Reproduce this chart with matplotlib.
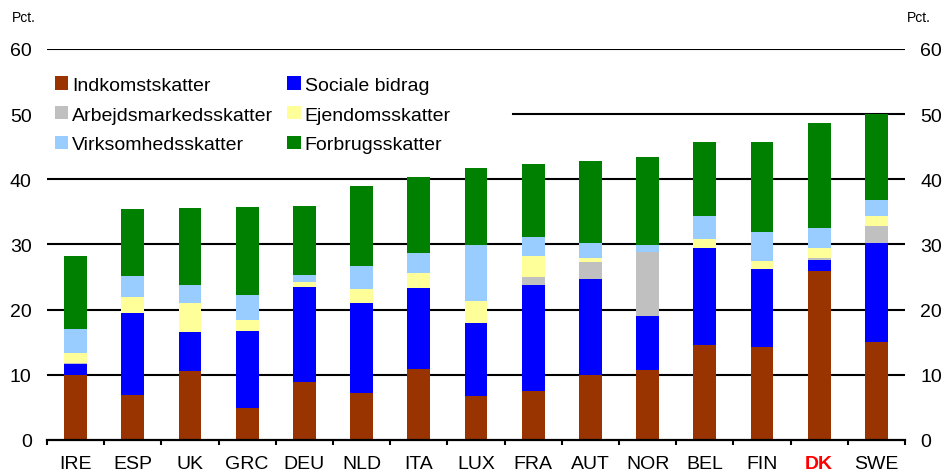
import numpy as np
import matplotlib
matplotlib.use("Agg")
import matplotlib.pyplot as plt

plt.rcParams['font.family'] = ['Liberation Sans', 'DejaVu Sans']

countries = ["IRE", "ESP", "UK", "GRC", "DEU", "NLD", "ITA", "LUX", "FRA", "AUT",
             "NOR", "BEL", "FIN", "DK", "SWE"]

indkomst = [10.0, 6.9, 10.6, 4.9, 8.9, 7.2, 10.9, 6.7, 7.5, 10.0, 10.7, 14.5, 14.2, 25.9, 15.1]
sociale = [1.6, 12.6, 6.0, 11.8, 14.6, 13.8, 12.4, 11.2, 16.3, 14.7, 8.3, 14.9, 12.1, 1.7, 15.2]
arbejds = [0.2, 0.0, 0.0, 0.0, 0.0, 0.0, 0.0, 0.0, 1.2, 2.6, 9.8, 0.0, 0.0, 0.3, 2.5]
ejendom = [1.5, 2.5, 4.4, 1.7, 0.8, 2.2, 2.3, 3.4, 3.3, 0.6, 0.0, 1.4, 1.1, 1.5, 1.5]
virksomhed = [3.7, 3.1, 2.8, 3.9, 1.0, 3.5, 3.1, 8.6, 2.9, 2.4, 1.1, 3.5, 4.5, 3.1, 2.5]
forbrug = [11.3, 10.3, 11.8, 13.5, 10.6, 12.3, 11.6, 11.9, 11.2, 12.5, 13.6, 11.5, 13.9, 16.2, 13.3]

# stacking order, bottom to top
series = [
    ("Indkomstskatter", indkomst, "#993300"),
    ("Sociale bidrag", sociale, "#0000FF"),
    ("Arbejdsmarkedsskatter", arbejds, "#C0C0C0"),
    ("Ejendomsskatter", ejendom, "#FFFF99"),
    ("Virksomhedsskatter", virksomhed, "#99CCFF"),
    ("Forbrugsskatter", forbrug, "#008000"),
]

fig = plt.figure(figsize=(9.43, 4.77), dpi=100)
ax = fig.add_axes([0.0498, 0.0755, 0.9099, 0.8197])

x = np.arange(len(countries))
bottom = np.zeros(len(countries))
handles = {}
for name, vals, col in series:
    handles[name] = ax.bar(x, vals, 0.4, bottom=bottom, color=col, label=name, zorder=3)
    bottom += np.array(vals)

# gridlines (the one at 50 is hidden behind the legend on the left)
for y in [10, 20, 30, 40, 60]:
    ax.axhline(y, color="black", lw=1.5, zorder=1)
ax.axhline(50, xmin=0.543, xmax=1, color="black", lw=1.5, zorder=1)

ax.set_xlim(-0.5, len(countries) - 0.5)
ax.set_ylim(0, 60)
ax.set_yticks(range(0, 61, 10))
ax.tick_params(axis="y", length=0, labelsize=14, labelleft=True, labelright=True, pad=11)

ax.set_xticks(x)
ax.set_xticklabels(countries, fontsize=14)
ax.set_xticks(np.arange(-0.5, len(countries)), minor=True)
ax.tick_params(axis="x", which="major", length=0, pad=11)
ax.tick_params(axis="x", which="minor", length=3.5, width=1.5, direction="out", color="black")
for lbl in ax.get_xticklabels():
    if lbl.get_text() == "DK":
        lbl.set_color("red")
        lbl.set_fontweight("bold")

for s in ["top", "left", "right"]:
    ax.spines[s].set_visible(False)
ax.spines["bottom"].set_linewidth(1.6)
ax.spines["bottom"].set_zorder(4)

# legend filled column by column: left column first, then right column
order = ["Indkomstskatter", "Arbejdsmarkedsskatter", "Virksomhedsskatter",
         "Sociale bidrag", "Ejendomsskatter", "Forbrugsskatter"]
ax.legend([handles[n] for n in order], order, ncol=2, frameon=False,
          loc="upper left", bbox_to_anchor=(0.009, 0.93), fontsize=14,
          handlelength=0.68, handleheight=0.68, handletextpad=0.22,
          columnspacing=0.72, labelspacing=0.63, borderpad=0, borderaxespad=0)

fig.text(0.013, 0.962, "Pct.", fontsize=10, va="center", ha="left")
fig.text(0.962, 0.962, "Pct.", fontsize=10, va="center", ha="left")

fig.savefig("out.png", dpi=100)
